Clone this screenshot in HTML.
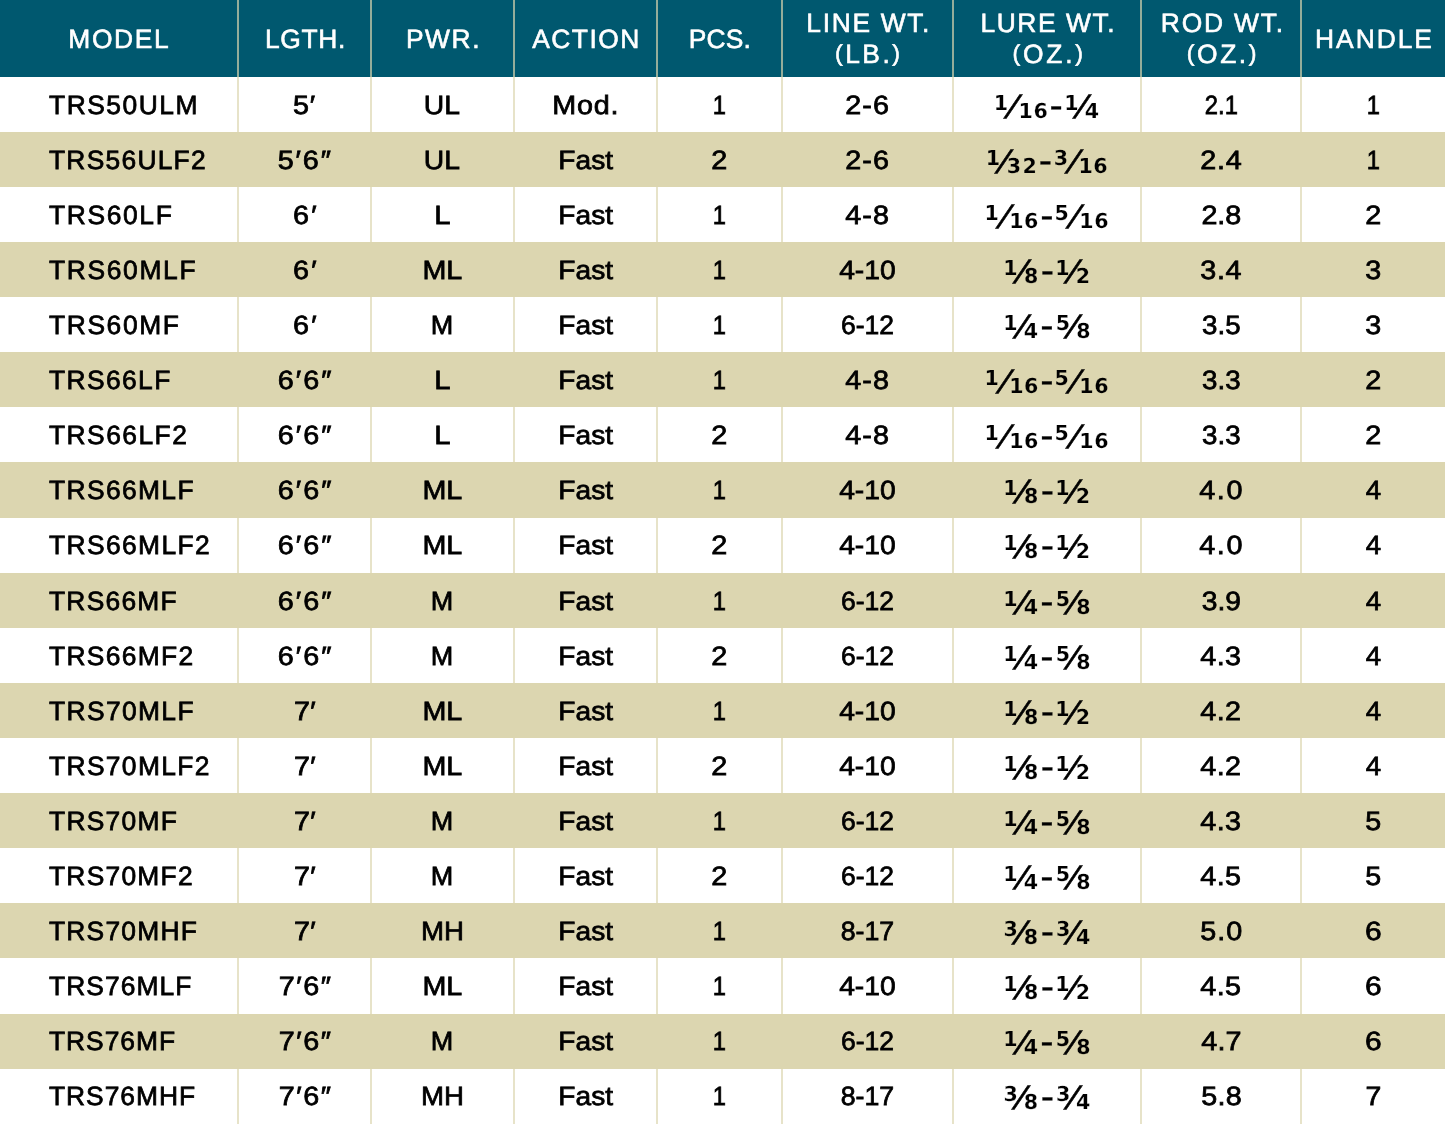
<!DOCTYPE html>
<html lang="en">
<head>
<meta charset="utf-8">
<title>Rod specifications</title>
<style>
*{margin:0;padding:0;box-sizing:border-box}
html,body{width:1445px;height:1124px;overflow:hidden;background:#fff}
body{position:relative;text-rendering:geometricPrecision;font-family:"Liberation Sans","DejaVu Sans",sans-serif;color:#000}
#t{position:absolute;left:0;top:0;width:1445px;height:1124px;overflow:hidden}
.hd{position:absolute;left:0;top:0;width:1445px;height:76.875px;background:#00586f}
.b{position:absolute;left:0;width:1445px;height:55.1053px;background:#dcd6b0}
.r{position:absolute;left:0;width:1445px;height:55px}
.v{position:absolute;top:0;width:2px;height:1124px;background:rgba(220,214,176,.68)}
.c{position:absolute;top:0;height:55px;text-align:center;white-space:nowrap;
   font-size:26.4px;-webkit-text-stroke:0.75px #000;line-height:55px}
.c span{display:inline-block}
.c.m{text-align:left;padding-left:49px}
.c.f{-webkit-text-stroke:0;font-family:"DejaVu Sans","Liberation Sans",sans-serif}
.f i{position:absolute;font-style:normal;line-height:normal;font-weight:bold;font-size:20.6px;letter-spacing:.5px}
.f .n,.f .d{-webkit-text-stroke:0.2px #fff}
.o .f .n,.o .f .d{-webkit-text-stroke-color:#dcd6b0}
.f .n{top:13.28px;transform:translateY(0.0px)}
.f .d{top:20.88px;transform:translateY(0.0px)}
.f .s{top:10.68px;font-weight:normal;font-size:31.6px;transform:translateY(1.0px) scaleX(1.13);transform-origin:0 0;letter-spacing:0;-webkit-text-stroke:0.5px #000}
.f .y{top:5.76px;font-weight:normal;font-size:36.9px;letter-spacing:0;transform:translateY(0.0px);-webkit-text-stroke:0.3px #000}
.h{position:absolute;top:0;height:77.0px;display:flex;flex-direction:column;align-items:center;justify-content:center;white-space:nowrap;text-align:center;
   color:#fff;font-size:26.4px;-webkit-text-stroke:0.6px #fff;line-height:30.7px;transform:translateY(0.7px)}
.h span{display:block}
.h .p{font-style:normal;font-size:.875em;position:relative;top:-2px}
.h.two{transform:translateY(0.7px)}
</style>
</head>
<body>
<div id="t">
<div class="hd"></div>
<div class="h" style="left:0px;width:237px"><span style="letter-spacing:1.6px;margin-right:-1.6px">MODEL</span></div>
<div class="h" style="left:239px;width:131px"><span style="letter-spacing:0.65px;margin-right:-0.65px;position:relative;left:0.6px">LGTH.</span></div>
<div class="h" style="left:372px;width:140.5px"><span style="letter-spacing:1.6px;margin-right:-1.6px;position:relative;left:0.5px">PWR.</span></div>
<div class="h" style="left:514.5px;width:141.5px"><span style="letter-spacing:1.45px;margin-right:-1.45px;position:relative;left:0.5px">ACTION</span></div>
<div class="h" style="left:658px;width:123px"><span style="letter-spacing:0.17px;margin-right:-0.17px;position:relative;left:0.3px">PCS.</span></div>
<div class="h two" style="left:783px;width:169px"><span style="letter-spacing:1.67px;margin-right:-1.67px;position:relative;left:0.4px">LINE WT.</span><span style="letter-spacing:2.53px;margin-right:-2.53px"><i class="p">(</i>LB.<i class="p">)</i></span></div>
<div class="h two" style="left:954px;width:186.3px"><span style="letter-spacing:1.56px;margin-right:-1.56px;position:relative;left:0.4px">LURE WT.</span><span style="letter-spacing:2.74px;margin-right:-2.74px;position:relative;left:0.6px"><i class="p">(</i>OZ.<i class="p">)</i></span></div>
<div class="h two" style="left:1142.3px;width:157.7px"><span style="letter-spacing:1.8px;margin-right:-1.8px;position:relative;left:0.8px">ROD WT.</span><span style="letter-spacing:2.54px;margin-right:-2.54px;position:relative;left:0.5px"><i class="p">(</i>OZ.<i class="p">)</i></span></div>
<div class="h" style="left:1302px;width:143px"><span style="letter-spacing:1.98px;margin-right:-1.98px">HANDLE</span></div>
<div class="r" style="top:78px">
<div class="c m" style="left:0px;width:237px"><span style="letter-spacing:1.53px">TRS50ULM</span></div>
<div class="c" style="left:239px;width:131px"><span style="letter-spacing:0.72px;margin-right:-0.72px;transform:scaleX(1.09)">5′</span></div>
<div class="c" style="left:372px;width:140.5px"><span style="transform:scaleX(1.072)">UL</span></div>
<div class="c" style="left:514.5px;width:141.5px"><span style="letter-spacing:0.68px;margin-right:-0.68px;transform:scaleX(1.09)">Mod.</span></div>
<div class="c" style="left:658px;width:123px"><span style="transform:scaleX(0.9)">1</span></div>
<div class="c" style="left:783px;width:169px"><span style="letter-spacing:1.04px;margin-right:-1.04px;transform:scaleX(1.09)">2-6</span></div>
<div class="c f" style="left:954px;width:186.3px"><i class="n" style="left:39.67px">1</i><i class="s" style="left:56.43px">⁄</i><i class="d" style="left:64.57px">16</i><i class="y" style="left:95.39px">-</i><i class="n" style="left:110.37px">1</i><i class="s" style="left:125.03px">⁄</i><i class="d" style="left:130.67px">4</i></div>
<div class="c" style="left:1142.3px;width:157.7px"><span style="transform:scaleX(0.9)">2.1</span></div>
<div class="c" style="left:1302px;width:143px"><span style="transform:scaleX(0.9)">1</span></div>
</div>
<div class="b" style="top:131.855px"></div>
<div class="r o" style="top:133px">
<div class="c m" style="left:0px;width:237px"><span style="letter-spacing:1.25px">TRS56ULF2</span></div>
<div class="c" style="left:239px;width:131px"><span style="letter-spacing:1.69px;margin-right:-1.69px;transform:scaleX(1.09)">5′6″</span></div>
<div class="c" style="left:372px;width:140.5px"><span style="transform:scaleX(1.072)">UL</span></div>
<div class="c" style="left:514.5px;width:141.5px"><span style="transform:scaleX(1.064)">Fast</span></div>
<div class="c" style="left:658px;width:123px"><span style="transform:scaleX(1.092)">2</span></div>
<div class="c" style="left:783px;width:169px"><span style="letter-spacing:1.04px;margin-right:-1.04px;transform:scaleX(1.09)">2-6</span></div>
<div class="c f" style="left:954px;width:186.3px"><i class="n" style="left:31.87px">1</i><i class="s" style="left:46.63px">⁄</i><i class="d" style="left:52.72px">3</i><i class="d" style="left:68.47px">2</i><i class="y" style="left:84.79px">-</i><i class="n" style="left:99.72px">3</i><i class="s" style="left:116.83px">⁄</i><i class="d" style="left:124.47px">16</i></div>
<div class="c" style="left:1142.3px;width:157.7px"><span style="letter-spacing:0.69px;margin-right:-0.69px;transform:scaleX(1.09)">2.4</span></div>
<div class="c" style="left:1302px;width:143px"><span style="transform:scaleX(0.9)">1</span></div>
</div>
<div class="r" style="top:188px">
<div class="c m" style="left:0px;width:237px"><span style="letter-spacing:1.64px">TRS60LF</span></div>
<div class="c" style="left:239px;width:131px"><span style="letter-spacing:2.25px;margin-right:-2.25px;transform:scaleX(1.09)">6′</span></div>
<div class="c" style="left:372px;width:140.5px"><span style="letter-spacing:1.5px;margin-right:-1.5px;transform:scaleX(1.107)">L</span></div>
<div class="c" style="left:514.5px;width:141.5px"><span style="transform:scaleX(1.064)">Fast</span></div>
<div class="c" style="left:658px;width:123px"><span style="transform:scaleX(0.9)">1</span></div>
<div class="c" style="left:783px;width:169px"><span style="letter-spacing:1.05px;margin-right:-1.05px;transform:scaleX(1.09)">4-8</span></div>
<div class="c f" style="left:954px;width:186.3px"><i class="n" style="left:30.47px">1</i><i class="s" style="left:47.53px">⁄</i><i class="d" style="left:55.17px">16</i><i class="y" style="left:86.19px">-</i><i class="n" style="left:100.51px">5</i><i class="s" style="left:117.83px">⁄</i><i class="d" style="left:125.37px">16</i></div>
<div class="c" style="left:1142.3px;width:157.7px"><span style="transform:scaleX(1.088)">2.8</span></div>
<div class="c" style="left:1302px;width:143px"><span style="transform:scaleX(1.092)">2</span></div>
</div>
<div class="b" style="top:242.066px"></div>
<div class="r o" style="top:243px">
<div class="c m" style="left:0px;width:237px"><span style="letter-spacing:1.66px">TRS60MLF</span></div>
<div class="c" style="left:239px;width:131px"><span style="letter-spacing:2.25px;margin-right:-2.25px;transform:scaleX(1.09)">6′</span></div>
<div class="c" style="left:372px;width:140.5px"><span style="transform:scaleX(1.088)">ML</span></div>
<div class="c" style="left:514.5px;width:141.5px"><span style="transform:scaleX(1.064)">Fast</span></div>
<div class="c" style="left:658px;width:123px"><span style="transform:scaleX(0.9)">1</span></div>
<div class="c" style="left:783px;width:169px"><span style="transform:scaleX(1.07)">4-10</span></div>
<div class="c f" style="left:954px;width:186.3px"><i class="n" style="left:49.37px">1</i><i class="s" style="left:64.53px">⁄</i><i class="d" style="left:70.04px">8</i><i class="y" style="left:86.69px">-</i><i class="n" style="left:101.17px">1</i><i class="s" style="left:115.83px">⁄</i><i class="d" style="left:121.77px">2</i></div>
<div class="c" style="left:1142.3px;width:157.7px"><span style="letter-spacing:0.56px;margin-right:-0.56px;transform:scaleX(1.09)">3.4</span></div>
<div class="c" style="left:1302px;width:143px"><span style="transform:scaleX(1.088)">3</span></div>
</div>
<div class="r" style="top:298px">
<div class="c m" style="left:0px;width:237px"><span style="letter-spacing:1.61px">TRS60MF</span></div>
<div class="c" style="left:239px;width:131px"><span style="letter-spacing:2.25px;margin-right:-2.25px;transform:scaleX(1.09)">6′</span></div>
<div class="c" style="left:372px;width:140.5px"><span style="letter-spacing:1.5px;margin-right:-1.5px;transform:scaleX(1.023)">M</span></div>
<div class="c" style="left:514.5px;width:141.5px"><span style="transform:scaleX(1.064)">Fast</span></div>
<div class="c" style="left:658px;width:123px"><span style="transform:scaleX(0.9)">1</span></div>
<div class="c" style="left:783px;width:169px"><span style="transform:scaleX(1.004)">6-12</span></div>
<div class="c f" style="left:954px;width:186.3px"><i class="n" style="left:49.37px">1</i><i class="s" style="left:64.53px">⁄</i><i class="d" style="left:69.67px">4</i><i class="y" style="left:86.19px">-</i><i class="n" style="left:101.71px">5</i><i class="s" style="left:116.33px">⁄</i><i class="d" style="left:122.14px">8</i></div>
<div class="c" style="left:1142.3px;width:157.7px"><span style="transform:scaleX(1.05)">3.5</span></div>
<div class="c" style="left:1302px;width:143px"><span style="transform:scaleX(1.088)">3</span></div>
</div>
<div class="b" style="top:352.276px"></div>
<div class="r o" style="top:353px">
<div class="c m" style="left:0px;width:237px"><span style="letter-spacing:1.39px">TRS66LF</span></div>
<div class="c" style="left:239px;width:131px"><span style="letter-spacing:1.87px;margin-right:-1.87px;transform:scaleX(1.09)">6′6″</span></div>
<div class="c" style="left:372px;width:140.5px"><span style="letter-spacing:1.5px;margin-right:-1.5px;transform:scaleX(1.107)">L</span></div>
<div class="c" style="left:514.5px;width:141.5px"><span style="transform:scaleX(1.064)">Fast</span></div>
<div class="c" style="left:658px;width:123px"><span style="transform:scaleX(0.9)">1</span></div>
<div class="c" style="left:783px;width:169px"><span style="letter-spacing:1.05px;margin-right:-1.05px;transform:scaleX(1.09)">4-8</span></div>
<div class="c f" style="left:954px;width:186.3px"><i class="n" style="left:30.47px">1</i><i class="s" style="left:47.53px">⁄</i><i class="d" style="left:55.17px">16</i><i class="y" style="left:86.19px">-</i><i class="n" style="left:100.51px">5</i><i class="s" style="left:117.83px">⁄</i><i class="d" style="left:125.37px">16</i></div>
<div class="c" style="left:1142.3px;width:157.7px"><span style="transform:scaleX(1.05)">3.3</span></div>
<div class="c" style="left:1302px;width:143px"><span style="transform:scaleX(1.092)">2</span></div>
</div>
<div class="r" style="top:408px">
<div class="c m" style="left:0px;width:237px"><span style="letter-spacing:1.46px">TRS66LF2</span></div>
<div class="c" style="left:239px;width:131px"><span style="letter-spacing:1.87px;margin-right:-1.87px;transform:scaleX(1.09)">6′6″</span></div>
<div class="c" style="left:372px;width:140.5px"><span style="letter-spacing:1.5px;margin-right:-1.5px;transform:scaleX(1.107)">L</span></div>
<div class="c" style="left:514.5px;width:141.5px"><span style="transform:scaleX(1.064)">Fast</span></div>
<div class="c" style="left:658px;width:123px"><span style="transform:scaleX(1.092)">2</span></div>
<div class="c" style="left:783px;width:169px"><span style="letter-spacing:1.05px;margin-right:-1.05px;transform:scaleX(1.09)">4-8</span></div>
<div class="c f" style="left:954px;width:186.3px"><i class="n" style="left:30.47px">1</i><i class="s" style="left:47.53px">⁄</i><i class="d" style="left:55.17px">16</i><i class="y" style="left:86.19px">-</i><i class="n" style="left:100.51px">5</i><i class="s" style="left:117.83px">⁄</i><i class="d" style="left:125.37px">16</i></div>
<div class="c" style="left:1142.3px;width:157.7px"><span style="transform:scaleX(1.05)">3.3</span></div>
<div class="c" style="left:1302px;width:143px"><span style="transform:scaleX(1.092)">2</span></div>
</div>
<div class="b" style="top:462.487px"></div>
<div class="r o" style="top:463px">
<div class="c m" style="left:0px;width:237px"><span style="letter-spacing:1.37px">TRS66MLF</span></div>
<div class="c" style="left:239px;width:131px"><span style="letter-spacing:1.87px;margin-right:-1.87px;transform:scaleX(1.09)">6′6″</span></div>
<div class="c" style="left:372px;width:140.5px"><span style="transform:scaleX(1.088)">ML</span></div>
<div class="c" style="left:514.5px;width:141.5px"><span style="transform:scaleX(1.064)">Fast</span></div>
<div class="c" style="left:658px;width:123px"><span style="transform:scaleX(0.9)">1</span></div>
<div class="c" style="left:783px;width:169px"><span style="transform:scaleX(1.07)">4-10</span></div>
<div class="c f" style="left:954px;width:186.3px"><i class="n" style="left:49.37px">1</i><i class="s" style="left:64.53px">⁄</i><i class="d" style="left:70.04px">8</i><i class="y" style="left:86.69px">-</i><i class="n" style="left:101.17px">1</i><i class="s" style="left:115.83px">⁄</i><i class="d" style="left:121.77px">2</i></div>
<div class="c" style="left:1142.3px;width:157.7px"><span style="letter-spacing:1.53px;margin-right:-1.53px;transform:scaleX(1.09)">4.0</span></div>
<div class="c" style="left:1302px;width:143px"><span style="transform:scaleX(1.047)">4</span></div>
</div>
<div class="r" style="top:518px">
<div class="c m" style="left:0px;width:237px"><span style="letter-spacing:1.38px">TRS66MLF2</span></div>
<div class="c" style="left:239px;width:131px"><span style="letter-spacing:1.87px;margin-right:-1.87px;transform:scaleX(1.09)">6′6″</span></div>
<div class="c" style="left:372px;width:140.5px"><span style="transform:scaleX(1.088)">ML</span></div>
<div class="c" style="left:514.5px;width:141.5px"><span style="transform:scaleX(1.064)">Fast</span></div>
<div class="c" style="left:658px;width:123px"><span style="transform:scaleX(1.092)">2</span></div>
<div class="c" style="left:783px;width:169px"><span style="transform:scaleX(1.07)">4-10</span></div>
<div class="c f" style="left:954px;width:186.3px"><i class="n" style="left:49.37px">1</i><i class="s" style="left:64.53px">⁄</i><i class="d" style="left:70.04px">8</i><i class="y" style="left:86.69px">-</i><i class="n" style="left:101.17px">1</i><i class="s" style="left:115.83px">⁄</i><i class="d" style="left:121.77px">2</i></div>
<div class="c" style="left:1142.3px;width:157.7px"><span style="letter-spacing:1.53px;margin-right:-1.53px;transform:scaleX(1.09)">4.0</span></div>
<div class="c" style="left:1302px;width:143px"><span style="transform:scaleX(1.047)">4</span></div>
</div>
<div class="b" style="top:572.697px"></div>
<div class="r o" style="top:574px">
<div class="c m" style="left:0px;width:237px"><span style="letter-spacing:1.24px">TRS66MF</span></div>
<div class="c" style="left:239px;width:131px"><span style="letter-spacing:1.87px;margin-right:-1.87px;transform:scaleX(1.09)">6′6″</span></div>
<div class="c" style="left:372px;width:140.5px"><span style="letter-spacing:1.5px;margin-right:-1.5px;transform:scaleX(1.023)">M</span></div>
<div class="c" style="left:514.5px;width:141.5px"><span style="transform:scaleX(1.064)">Fast</span></div>
<div class="c" style="left:658px;width:123px"><span style="transform:scaleX(0.9)">1</span></div>
<div class="c" style="left:783px;width:169px"><span style="transform:scaleX(1.004)">6-12</span></div>
<div class="c f" style="left:954px;width:186.3px"><i class="n" style="left:49.37px">1</i><i class="s" style="left:64.53px">⁄</i><i class="d" style="left:69.67px">4</i><i class="y" style="left:86.19px">-</i><i class="n" style="left:101.71px">5</i><i class="s" style="left:116.33px">⁄</i><i class="d" style="left:122.14px">8</i></div>
<div class="c" style="left:1142.3px;width:157.7px"><span style="transform:scaleX(1.069)">3.9</span></div>
<div class="c" style="left:1302px;width:143px"><span style="transform:scaleX(1.047)">4</span></div>
</div>
<div class="r" style="top:629px">
<div class="c m" style="left:0px;width:237px"><span style="letter-spacing:1.33px">TRS66MF2</span></div>
<div class="c" style="left:239px;width:131px"><span style="letter-spacing:1.87px;margin-right:-1.87px;transform:scaleX(1.09)">6′6″</span></div>
<div class="c" style="left:372px;width:140.5px"><span style="letter-spacing:1.5px;margin-right:-1.5px;transform:scaleX(1.023)">M</span></div>
<div class="c" style="left:514.5px;width:141.5px"><span style="transform:scaleX(1.064)">Fast</span></div>
<div class="c" style="left:658px;width:123px"><span style="transform:scaleX(1.092)">2</span></div>
<div class="c" style="left:783px;width:169px"><span style="transform:scaleX(1.004)">6-12</span></div>
<div class="c f" style="left:954px;width:186.3px"><i class="n" style="left:49.37px">1</i><i class="s" style="left:64.53px">⁄</i><i class="d" style="left:69.67px">4</i><i class="y" style="left:86.19px">-</i><i class="n" style="left:101.71px">5</i><i class="s" style="left:116.33px">⁄</i><i class="d" style="left:122.14px">8</i></div>
<div class="c" style="left:1142.3px;width:157.7px"><span style="letter-spacing:0.34px;margin-right:-0.34px;transform:scaleX(1.09)">4.3</span></div>
<div class="c" style="left:1302px;width:143px"><span style="transform:scaleX(1.047)">4</span></div>
</div>
<div class="b" style="top:682.908px"></div>
<div class="r o" style="top:684px">
<div class="c m" style="left:0px;width:237px"><span style="letter-spacing:1.37px">TRS70MLF</span></div>
<div class="c" style="left:239px;width:131px"><span style="letter-spacing:0.21px;margin-right:-0.21px;transform:scaleX(1.09)">7′</span></div>
<div class="c" style="left:372px;width:140.5px"><span style="transform:scaleX(1.088)">ML</span></div>
<div class="c" style="left:514.5px;width:141.5px"><span style="transform:scaleX(1.064)">Fast</span></div>
<div class="c" style="left:658px;width:123px"><span style="transform:scaleX(0.9)">1</span></div>
<div class="c" style="left:783px;width:169px"><span style="transform:scaleX(1.07)">4-10</span></div>
<div class="c f" style="left:954px;width:186.3px"><i class="n" style="left:49.37px">1</i><i class="s" style="left:64.53px">⁄</i><i class="d" style="left:70.04px">8</i><i class="y" style="left:86.69px">-</i><i class="n" style="left:101.17px">1</i><i class="s" style="left:115.83px">⁄</i><i class="d" style="left:121.77px">2</i></div>
<div class="c" style="left:1142.3px;width:157.7px"><span style="letter-spacing:0.34px;margin-right:-0.34px;transform:scaleX(1.09)">4.2</span></div>
<div class="c" style="left:1302px;width:143px"><span style="transform:scaleX(1.047)">4</span></div>
</div>
<div class="r" style="top:739px">
<div class="c m" style="left:0px;width:237px"><span style="letter-spacing:1.35px">TRS70MLF2</span></div>
<div class="c" style="left:239px;width:131px"><span style="letter-spacing:0.21px;margin-right:-0.21px;transform:scaleX(1.09)">7′</span></div>
<div class="c" style="left:372px;width:140.5px"><span style="transform:scaleX(1.088)">ML</span></div>
<div class="c" style="left:514.5px;width:141.5px"><span style="transform:scaleX(1.064)">Fast</span></div>
<div class="c" style="left:658px;width:123px"><span style="transform:scaleX(1.092)">2</span></div>
<div class="c" style="left:783px;width:169px"><span style="transform:scaleX(1.07)">4-10</span></div>
<div class="c f" style="left:954px;width:186.3px"><i class="n" style="left:49.37px">1</i><i class="s" style="left:64.53px">⁄</i><i class="d" style="left:70.04px">8</i><i class="y" style="left:86.69px">-</i><i class="n" style="left:101.17px">1</i><i class="s" style="left:115.83px">⁄</i><i class="d" style="left:121.77px">2</i></div>
<div class="c" style="left:1142.3px;width:157.7px"><span style="letter-spacing:0.34px;margin-right:-0.34px;transform:scaleX(1.09)">4.2</span></div>
<div class="c" style="left:1302px;width:143px"><span style="transform:scaleX(1.047)">4</span></div>
</div>
<div class="b" style="top:793.118px"></div>
<div class="r o" style="top:794px">
<div class="c m" style="left:0px;width:237px"><span style="letter-spacing:1.26px">TRS70MF</span></div>
<div class="c" style="left:239px;width:131px"><span style="letter-spacing:0.21px;margin-right:-0.21px;transform:scaleX(1.09)">7′</span></div>
<div class="c" style="left:372px;width:140.5px"><span style="letter-spacing:1.5px;margin-right:-1.5px;transform:scaleX(1.023)">M</span></div>
<div class="c" style="left:514.5px;width:141.5px"><span style="transform:scaleX(1.064)">Fast</span></div>
<div class="c" style="left:658px;width:123px"><span style="transform:scaleX(0.9)">1</span></div>
<div class="c" style="left:783px;width:169px"><span style="transform:scaleX(1.004)">6-12</span></div>
<div class="c f" style="left:954px;width:186.3px"><i class="n" style="left:49.37px">1</i><i class="s" style="left:64.53px">⁄</i><i class="d" style="left:69.67px">4</i><i class="y" style="left:86.19px">-</i><i class="n" style="left:101.71px">5</i><i class="s" style="left:116.33px">⁄</i><i class="d" style="left:122.14px">8</i></div>
<div class="c" style="left:1142.3px;width:157.7px"><span style="letter-spacing:0.34px;margin-right:-0.34px;transform:scaleX(1.09)">4.3</span></div>
<div class="c" style="left:1302px;width:143px"><span style="transform:scaleX(1.088)">5</span></div>
</div>
<div class="r" style="top:849px">
<div class="c m" style="left:0px;width:237px"><span style="letter-spacing:1.24px">TRS70MF2</span></div>
<div class="c" style="left:239px;width:131px"><span style="letter-spacing:0.21px;margin-right:-0.21px;transform:scaleX(1.09)">7′</span></div>
<div class="c" style="left:372px;width:140.5px"><span style="letter-spacing:1.5px;margin-right:-1.5px;transform:scaleX(1.023)">M</span></div>
<div class="c" style="left:514.5px;width:141.5px"><span style="transform:scaleX(1.064)">Fast</span></div>
<div class="c" style="left:658px;width:123px"><span style="transform:scaleX(1.092)">2</span></div>
<div class="c" style="left:783px;width:169px"><span style="transform:scaleX(1.004)">6-12</span></div>
<div class="c f" style="left:954px;width:186.3px"><i class="n" style="left:49.37px">1</i><i class="s" style="left:64.53px">⁄</i><i class="d" style="left:69.67px">4</i><i class="y" style="left:86.19px">-</i><i class="n" style="left:101.71px">5</i><i class="s" style="left:116.33px">⁄</i><i class="d" style="left:122.14px">8</i></div>
<div class="c" style="left:1142.3px;width:157.7px"><span style="letter-spacing:0.34px;margin-right:-0.34px;transform:scaleX(1.09)">4.5</span></div>
<div class="c" style="left:1302px;width:143px"><span style="transform:scaleX(1.088)">5</span></div>
</div>
<div class="b" style="top:903.329px"></div>
<div class="r o" style="top:904px">
<div class="c m" style="left:0px;width:237px"><span style="letter-spacing:1.21px">TRS70MHF</span></div>
<div class="c" style="left:239px;width:131px"><span style="letter-spacing:0.21px;margin-right:-0.21px;transform:scaleX(1.09)">7′</span></div>
<div class="c" style="left:372px;width:140.5px"><span style="transform:scaleX(1.048)">MH</span></div>
<div class="c" style="left:514.5px;width:141.5px"><span style="transform:scaleX(1.064)">Fast</span></div>
<div class="c" style="left:658px;width:123px"><span style="transform:scaleX(0.9)">1</span></div>
<div class="c" style="left:783px;width:169px"><span style="transform:scaleX(1.013)">8-17</span></div>
<div class="c f" style="left:954px;width:186.3px"><i class="n" style="left:49.62px">3</i><i class="s" style="left:64.03px">⁄</i><i class="d" style="left:69.84px">8</i><i class="y" style="left:86.69px">-</i><i class="n" style="left:101.92px">3</i><i class="s" style="left:115.83px">⁄</i><i class="d" style="left:121.97px">4</i></div>
<div class="c" style="left:1142.3px;width:157.7px"><span style="letter-spacing:0.88px;margin-right:-0.88px;transform:scaleX(1.09)">5.0</span></div>
<div class="c" style="left:1302px;width:143px"><span style="transform:scaleX(1.134)">6</span></div>
</div>
<div class="r" style="top:959px">
<div class="c m" style="left:0px;width:237px"><span style="letter-spacing:1.07px">TRS76MLF</span></div>
<div class="c" style="left:239px;width:131px"><span style="letter-spacing:1.4px;margin-right:-1.4px;transform:scaleX(1.09)">7′6″</span></div>
<div class="c" style="left:372px;width:140.5px"><span style="transform:scaleX(1.088)">ML</span></div>
<div class="c" style="left:514.5px;width:141.5px"><span style="transform:scaleX(1.064)">Fast</span></div>
<div class="c" style="left:658px;width:123px"><span style="transform:scaleX(0.9)">1</span></div>
<div class="c" style="left:783px;width:169px"><span style="transform:scaleX(1.07)">4-10</span></div>
<div class="c f" style="left:954px;width:186.3px"><i class="n" style="left:49.37px">1</i><i class="s" style="left:64.53px">⁄</i><i class="d" style="left:70.04px">8</i><i class="y" style="left:86.69px">-</i><i class="n" style="left:101.17px">1</i><i class="s" style="left:115.83px">⁄</i><i class="d" style="left:121.77px">2</i></div>
<div class="c" style="left:1142.3px;width:157.7px"><span style="letter-spacing:0.34px;margin-right:-0.34px;transform:scaleX(1.09)">4.5</span></div>
<div class="c" style="left:1302px;width:143px"><span style="transform:scaleX(1.134)">6</span></div>
</div>
<div class="b" style="top:1013.539px"></div>
<div class="r o" style="top:1014px">
<div class="c m" style="left:0px;width:237px"><span style="letter-spacing:0.96px">TRS76MF</span></div>
<div class="c" style="left:239px;width:131px"><span style="letter-spacing:1.4px;margin-right:-1.4px;transform:scaleX(1.09)">7′6″</span></div>
<div class="c" style="left:372px;width:140.5px"><span style="letter-spacing:1.5px;margin-right:-1.5px;transform:scaleX(1.023)">M</span></div>
<div class="c" style="left:514.5px;width:141.5px"><span style="transform:scaleX(1.064)">Fast</span></div>
<div class="c" style="left:658px;width:123px"><span style="transform:scaleX(0.9)">1</span></div>
<div class="c" style="left:783px;width:169px"><span style="transform:scaleX(1.004)">6-12</span></div>
<div class="c f" style="left:954px;width:186.3px"><i class="n" style="left:49.37px">1</i><i class="s" style="left:64.53px">⁄</i><i class="d" style="left:69.67px">4</i><i class="y" style="left:86.19px">-</i><i class="n" style="left:101.71px">5</i><i class="s" style="left:116.33px">⁄</i><i class="d" style="left:122.14px">8</i></div>
<div class="c" style="left:1142.3px;width:157.7px"><span style="letter-spacing:0.11px;margin-right:-0.11px;transform:scaleX(1.09)">4.7</span></div>
<div class="c" style="left:1302px;width:143px"><span style="transform:scaleX(1.134)">6</span></div>
</div>
<div class="r" style="top:1069px">
<div class="c m" style="left:0px;width:237px"><span style="letter-spacing:0.97px">TRS76MHF</span></div>
<div class="c" style="left:239px;width:131px"><span style="letter-spacing:1.4px;margin-right:-1.4px;transform:scaleX(1.09)">7′6″</span></div>
<div class="c" style="left:372px;width:140.5px"><span style="transform:scaleX(1.048)">MH</span></div>
<div class="c" style="left:514.5px;width:141.5px"><span style="transform:scaleX(1.064)">Fast</span></div>
<div class="c" style="left:658px;width:123px"><span style="transform:scaleX(0.9)">1</span></div>
<div class="c" style="left:783px;width:169px"><span style="transform:scaleX(1.013)">8-17</span></div>
<div class="c f" style="left:954px;width:186.3px"><i class="n" style="left:49.62px">3</i><i class="s" style="left:64.03px">⁄</i><i class="d" style="left:69.84px">8</i><i class="y" style="left:86.69px">-</i><i class="n" style="left:101.92px">3</i><i class="s" style="left:115.83px">⁄</i><i class="d" style="left:121.97px">4</i></div>
<div class="c" style="left:1142.3px;width:157.7px"><span style="letter-spacing:0.19px;margin-right:-0.19px;transform:scaleX(1.09)">5.8</span></div>
<div class="c" style="left:1302px;width:143px"><span style="transform:scaleX(1.077)">7</span></div>
</div>
<div class="v" style="left:237px"></div>
<div class="v" style="left:370px"></div>
<div class="v" style="left:512.5px"></div>
<div class="v" style="left:656px"></div>
<div class="v" style="left:781px"></div>
<div class="v" style="left:952px"></div>
<div class="v" style="left:1140.3px"></div>
<div class="v" style="left:1300px"></div>
</div>
</body>
</html>
